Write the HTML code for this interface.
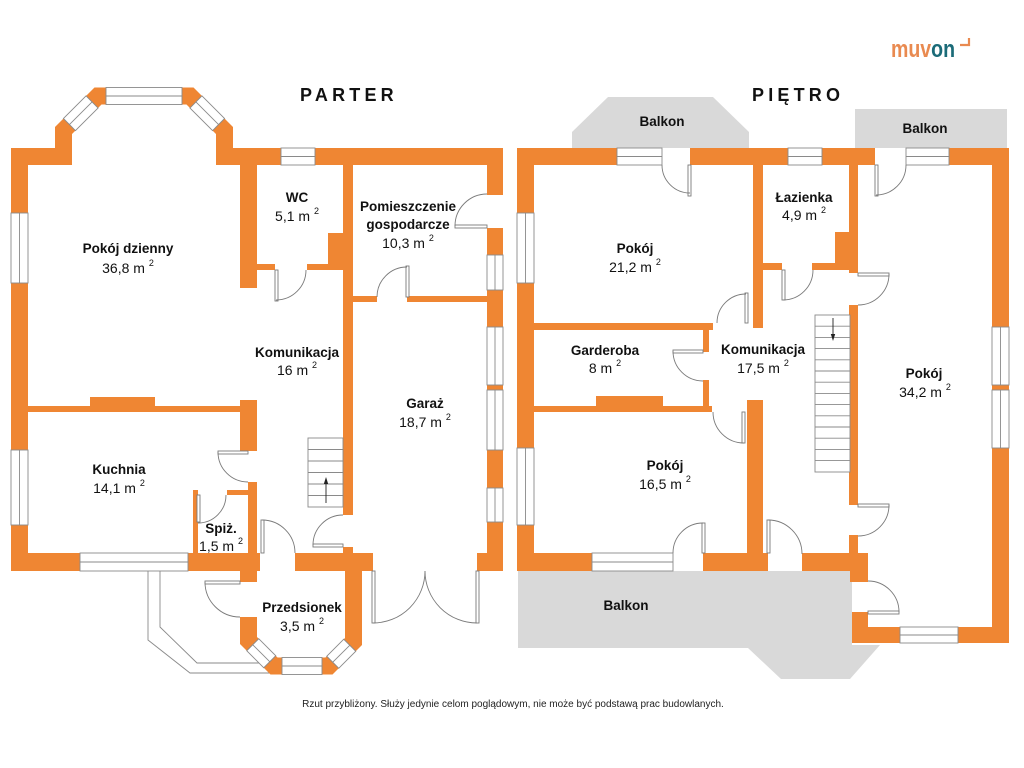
<!DOCTYPE html>
<html><head><meta charset="utf-8"><style>
html,body{margin:0;padding:0;background:#fff}
svg{display:block}
.o{fill:#EF8633}
.w{fill:#fff;stroke:#8a8a8a;stroke-width:0.9}
.wl{stroke:#8a8a8a;stroke-width:0.9}
.d{fill:#fff;stroke:#7a7a7a;stroke-width:0.9}
.a{fill:none;stroke:#7a7a7a;stroke-width:0.9}
.n{font-family:"Liberation Sans",Arial,sans-serif;font-weight:bold;font-size:13.5px;fill:#111;text-anchor:middle}
.m{font-family:"Liberation Sans",Arial,sans-serif;font-size:14px;fill:#111;text-anchor:middle}
.s{font-size:9px}
.t{font-family:"Liberation Sans",Arial,sans-serif;font-weight:bold;font-size:18px;fill:#111;letter-spacing:4.2px}
</style></head><body>
<svg width="1024" height="768" viewBox="0 0 1024 768" xmlns="http://www.w3.org/2000/svg">
<rect width="1024" height="768" fill="#fff"/>

<!-- logo -->
<text x="891" y="57" font-family="Liberation Sans,Arial,sans-serif" font-weight="bold" font-size="24" textLength="64" lengthAdjust="spacingAndGlyphs" fill="#E98A50">muv<tspan fill="#1B6B78">on</tspan></text>
<path d="M960,45 H969 V38" fill="none" stroke="#E98A50" stroke-width="2.2"/>

<!-- titles -->
<text x="300" y="101" class="t">PARTER</text>
<text x="752" y="101" class="t">PIĘTRO</text>

<!-- ============ BALCONIES (PIETRO) ============ -->
<polygon points="572,148 572,132 608,97 713,97 749,132 749,148" fill="#D9D9D9"/>
<rect x="855" y="109" width="152" height="39" fill="#D9D9D9"/>
<polygon points="518,571 852,571 852,645 880,645 850,679 781,679 748,648 518,648" fill="#D9D9D9"/>

<!-- ============ PARTER ============ -->
<polyline points="148,571 148,640 190,673 272,673" fill="none" stroke="#8a8a8a" stroke-width="0.9"/>
<polyline points="160,571 160,627 197,663 266,663" fill="none" stroke="#8a8a8a" stroke-width="0.9"/>

<rect class="o" x="11" y="148" width="17" height="423"/>
<rect class="o" x="11" y="148" width="61" height="17"/>
<polyline points="63.5,165 63.5,130.5 98,96 190,96 224.5,130.5 224.5,165" fill="none" stroke="#EF8633" stroke-width="17"/>
<rect class="o" x="216" y="148" width="287" height="17"/>
<rect class="o" x="487" y="148" width="16" height="47"/>
<rect class="o" x="487" y="228" width="16" height="343"/>
<rect class="o" x="240" y="148" width="17" height="140"/>
<rect class="o" x="343" y="148" width="10" height="367"/>
<rect class="o" x="343" y="547" width="10" height="8"/>
<rect class="o" x="328" y="233" width="15" height="32"/>
<rect class="o" x="257" y="264" width="18" height="6"/>
<rect class="o" x="307" y="264" width="36" height="6"/>
<rect class="o" x="353" y="296" width="24" height="6"/>
<rect class="o" x="407" y="296" width="80" height="6"/>
<rect class="o" x="28" y="406" width="212" height="6"/>
<rect class="o" x="90" y="397" width="65" height="15"/>
<rect class="o" x="240" y="400" width="17" height="51"/>
<rect class="o" x="248" y="482" width="9" height="73"/>
<rect class="o" x="193" y="490" width="5" height="65"/>
<rect class="o" x="227" y="490" width="25" height="5"/>
<rect class="o" x="11" y="553" width="249" height="18"/>
<rect class="o" x="295" y="553" width="78" height="18"/>
<rect class="o" x="477" y="553" width="26" height="18"/>
<rect class="o" x="240" y="571" width="17" height="11"/>
<rect class="o" x="345" y="571" width="17" height="50"/>
<polyline points="248.5,617 248.5,640.5 274,666 329,666 353.5,641.5 353.5,620" fill="none" stroke="#EF8633" stroke-width="17"/>

<rect class="w" x="11" y="213" width="17" height="70"/><line class="wl" x1="19.5" y1="213" x2="19.5" y2="283"/>
<rect class="w" x="11" y="450" width="17" height="75"/><line class="wl" x1="19.5" y1="450" x2="19.5" y2="525"/>
<rect class="w" x="106" y="87.5" width="76" height="17"/><line class="wl" x1="106" y1="96" x2="182" y2="96"/>
<g transform="translate(80.75,113.25) rotate(-45)"><rect class="w" x="-16" y="-8.5" width="32" height="17"/><line class="wl" x1="-16" y1="0" x2="16" y2="0"/></g>
<g transform="translate(207.25,113.25) rotate(45)"><rect class="w" x="-16" y="-8.5" width="32" height="17"/><line class="wl" x1="-16" y1="0" x2="16" y2="0"/></g>
<rect class="w" x="281" y="148" width="34" height="17"/><line class="wl" x1="281" y1="156.5" x2="315" y2="156.5"/>
<rect class="w" x="80" y="553" width="108" height="18"/><line class="wl" x1="80" y1="562" x2="188" y2="562"/>
<rect class="w" x="487" y="255" width="16" height="35"/><line class="wl" x1="495" y1="255" x2="495" y2="290"/>
<rect class="w" x="487" y="327" width="16" height="58"/><line class="wl" x1="495" y1="327" x2="495" y2="385"/>
<rect class="w" x="487" y="390" width="16" height="60"/><line class="wl" x1="495" y1="390" x2="495" y2="450"/>
<rect class="w" x="487" y="488" width="16" height="34"/><line class="wl" x1="495" y1="488" x2="495" y2="522"/>
<rect class="w" x="282" y="657.5" width="40" height="17"/><line class="wl" x1="282" y1="666" x2="322" y2="666"/>
<g transform="translate(261.25,653.25) rotate(45)"><rect class="w" x="-12" y="-8.5" width="24" height="17"/><line class="wl" x1="-12" y1="0" x2="12" y2="0"/></g>
<g transform="translate(341.25,653.75) rotate(-45)"><rect class="w" x="-12" y="-8.5" width="24" height="17"/><line class="wl" x1="-12" y1="0" x2="12" y2="0"/></g>

<rect class="d" x="455" y="225" width="32" height="3"/><path class="a" d="M455,226 A32,32 0 0 1 487,194"/>
<rect class="d" x="275" y="270" width="3" height="31"/><path class="a" d="M276,300 A30,30 0 0 0 306,270"/>
<rect class="d" x="406" y="266" width="3" height="31"/><path class="a" d="M377,297 A30,30 0 0 1 407,267"/>
<rect class="d" x="218" y="451" width="30" height="3"/><path class="a" d="M218,452 A30,30 0 0 0 248,482"/>
<rect class="d" x="197" y="495" width="3" height="27"/><path class="a" d="M198,523 A28,28 0 0 0 226,495"/>
<rect class="d" x="261" y="520" width="3" height="33"/><path class="a" d="M262,520 A33,33 0 0 1 295,553"/>
<rect class="d" x="313" y="544" width="30" height="3"/><path class="a" d="M313,545 A30,30 0 0 1 343,515"/>
<rect class="d" x="205" y="581" width="35" height="3"/><path class="a" d="M205,582 A35,35 0 0 0 240,617"/>
<rect class="d" x="372" y="571" width="3" height="52"/><path class="a" d="M425,571 A52,52 0 0 1 373,623"/>
<rect class="d" x="476" y="571" width="3" height="52"/><path class="a" d="M425,571 A52,52 0 0 0 477,623"/>

<rect x="308" y="438" width="35" height="69" fill="#fff" stroke="#8a8a8a" stroke-width="0.9"/>
<g class="wl"><line x1="308" y1="449.5" x2="343" y2="449.5"/><line x1="308" y1="461" x2="343" y2="461"/><line x1="308" y1="472.5" x2="343" y2="472.5"/><line x1="308" y1="484" x2="343" y2="484"/><line x1="308" y1="495.5" x2="343" y2="495.5"/></g>
<line x1="326" y1="503" x2="326" y2="483" stroke="#222" stroke-width="0.9"/><polygon points="326,477 323.8,484 328.2,484" fill="#222"/>

<text class="n" x="128" y="253">Pokój dzienny</text><text class="m" x="128" y="273">36,8 m <tspan class="s" dy="-7">2</tspan></text>
<text class="n" x="297" y="202">WC</text><text class="m" x="297" y="221">5,1 m <tspan class="s" dy="-7">2</tspan></text>
<text class="n" x="408" y="211">Pomieszczenie</text><text class="n" x="408" y="229">gospodarcze</text><text class="m" x="408" y="248">10,3 m <tspan class="s" dy="-7">2</tspan></text>
<text class="n" x="297" y="357">Komunikacja</text><text class="m" x="297" y="375">16 m <tspan class="s" dy="-7">2</tspan></text>
<text class="n" x="425" y="408">Garaż</text><text class="m" x="425" y="427">18,7 m <tspan class="s" dy="-7">2</tspan></text>
<text class="n" x="119" y="474">Kuchnia</text><text class="m" x="119" y="493">14,1 m <tspan class="s" dy="-7">2</tspan></text>
<text class="n" x="221" y="533">Spiż.</text><text class="m" x="221" y="551">1,5 m <tspan class="s" dy="-7">2</tspan></text>
<text class="n" x="302" y="612">Przedsionek</text><text class="m" x="302" y="631">3,5 m <tspan class="s" dy="-7">2</tspan></text>

<!-- ============ PIETRO ============ -->
<rect class="o" x="517" y="148" width="17" height="423"/>
<rect class="o" x="517" y="148" width="145" height="17"/>
<rect class="o" x="690" y="148" width="185" height="17"/>
<rect class="o" x="906" y="148" width="103" height="17"/>
<rect class="o" x="992" y="148" width="17" height="495"/>
<rect class="o" x="852" y="627" width="157" height="16"/>
<rect class="o" x="753" y="148" width="10" height="180"/>
<rect class="o" x="534" y="323" width="179" height="7"/>
<rect class="o" x="703" y="323" width="6" height="29"/>
<rect class="o" x="703" y="380" width="6" height="32"/>
<rect class="o" x="534" y="406" width="178" height="6"/>
<rect class="o" x="596" y="396" width="67" height="16"/>
<rect class="o" x="747" y="400" width="16" height="171"/>
<rect class="o" x="517" y="553" width="156" height="18"/>
<rect class="o" x="703" y="553" width="65" height="18"/>
<rect class="o" x="802" y="553" width="66" height="18"/>
<rect class="o" x="850" y="553" width="18" height="29"/>
<rect class="o" x="852" y="612" width="16" height="31"/>
<rect class="o" x="849" y="148" width="9" height="125"/>
<rect class="o" x="849" y="305" width="9" height="200"/>
<rect class="o" x="849" y="535" width="9" height="20"/>
<rect class="o" x="835" y="232" width="14" height="35"/>
<rect class="o" x="763" y="263" width="19" height="7"/>
<rect class="o" x="812" y="263" width="37" height="7"/>

<rect class="w" x="517" y="213" width="17" height="70"/><line class="wl" x1="525.5" y1="213" x2="525.5" y2="283"/>
<rect class="w" x="517" y="448" width="17" height="77"/><line class="wl" x1="525.5" y1="448" x2="525.5" y2="525"/>
<rect class="w" x="617" y="148" width="45" height="17"/><line class="wl" x1="617" y1="156.5" x2="662" y2="156.5"/>
<rect class="w" x="788" y="148" width="34" height="17"/><line class="wl" x1="788" y1="156.5" x2="822" y2="156.5"/>
<rect class="w" x="906" y="148" width="43" height="17"/><line class="wl" x1="906" y1="156.5" x2="949" y2="156.5"/>
<rect class="w" x="992" y="327" width="17" height="58"/><line class="wl" x1="1000.5" y1="327" x2="1000.5" y2="385"/>
<rect class="w" x="992" y="390" width="17" height="58"/><line class="wl" x1="1000.5" y1="390" x2="1000.5" y2="448"/>
<rect class="w" x="592" y="553" width="81" height="18"/><line class="wl" x1="592" y1="562" x2="673" y2="562"/>
<rect class="w" x="900" y="627" width="58" height="16"/><line class="wl" x1="900" y1="635" x2="958" y2="635"/>

<rect class="d" x="688" y="165" width="3" height="31"/><path class="a" d="M662,165 A28,28 0 0 0 690,193"/>
<rect class="d" x="745" y="293" width="3" height="30"/><path class="a" d="M717,323 A29,29 0 0 1 746,294"/>
<rect class="d" x="673" y="350" width="30" height="3"/><path class="a" d="M673,351 A30,30 0 0 0 703,381"/>
<rect class="d" x="742" y="412" width="3" height="31"/><path class="a" d="M713,412 A31,31 0 0 0 744,443"/>
<rect class="d" x="702" y="523" width="3" height="30"/><path class="a" d="M703,523 A30,30 0 0 0 673,553"/>
<rect class="d" x="767" y="520" width="3" height="33"/><path class="a" d="M768,520 A34,34 0 0 1 802,554"/>
<rect class="d" x="782" y="270" width="3" height="30"/><path class="a" d="M783,300 A30,30 0 0 0 813,270"/>
<rect class="d" x="858" y="273" width="31" height="3"/><path class="a" d="M889,274 A31,31 0 0 1 858,305"/>
<rect class="d" x="875" y="165" width="3" height="31"/><path class="a" d="M876,195 A30,30 0 0 0 906,165"/>
<rect class="d" x="858" y="504" width="31" height="3"/><path class="a" d="M889,505 A31,31 0 0 1 858,536"/>
<rect class="d" x="868" y="611" width="31" height="3"/><path class="a" d="M868,581 A31,31 0 0 1 899,612"/>

<rect x="815" y="315" width="35" height="157" fill="#fff" stroke="#8a8a8a" stroke-width="0.9"/>
<g class="wl">
<line x1="815" y1="326.2" x2="850" y2="326.2"/><line x1="815" y1="337.4" x2="850" y2="337.4"/><line x1="815" y1="348.6" x2="850" y2="348.6"/><line x1="815" y1="359.8" x2="850" y2="359.8"/><line x1="815" y1="371" x2="850" y2="371"/><line x1="815" y1="382.2" x2="850" y2="382.2"/><line x1="815" y1="393.4" x2="850" y2="393.4"/><line x1="815" y1="404.6" x2="850" y2="404.6"/><line x1="815" y1="415.8" x2="850" y2="415.8"/><line x1="815" y1="427" x2="850" y2="427"/><line x1="815" y1="438.2" x2="850" y2="438.2"/><line x1="815" y1="449.4" x2="850" y2="449.4"/><line x1="815" y1="460.6" x2="850" y2="460.6"/>
</g>
<line x1="833" y1="318" x2="833" y2="336" stroke="#222" stroke-width="0.9"/><polygon points="833,341 830.8,334 835.2,334" fill="#222"/>

<text class="n" x="662" y="126">Balkon</text>
<text class="n" x="925" y="133">Balkon</text>
<text class="n" x="626" y="610">Balkon</text>
<text class="n" x="635" y="253">Pokój</text><text class="m" x="635" y="272">21,2 m <tspan class="s" dy="-7">2</tspan></text>
<text class="n" x="605" y="355">Garderoba</text><text class="m" x="605" y="373">8 m <tspan class="s" dy="-7">2</tspan></text>
<text class="n" x="763" y="354">Komunikacja</text><text class="m" x="763" y="373">17,5 m <tspan class="s" dy="-7">2</tspan></text>
<text class="n" x="665" y="470">Pokój</text><text class="m" x="665" y="489">16,5 m <tspan class="s" dy="-7">2</tspan></text>
<text class="n" x="804" y="202">Łazienka</text><text class="m" x="804" y="220">4,9 m <tspan class="s" dy="-7">2</tspan></text>
<text class="n" x="924" y="378">Pokój</text><text class="m" x="925" y="397">34,2 m <tspan class="s" dy="-7">2</tspan></text>

<text x="513" y="707" font-family="Liberation Sans,Arial,sans-serif" font-size="10" fill="#222" text-anchor="middle">Rzut przybliżony. Służy jedynie celom poglądowym, nie może być podstawą prac budowlanych.</text>
</svg>
</body></html>
